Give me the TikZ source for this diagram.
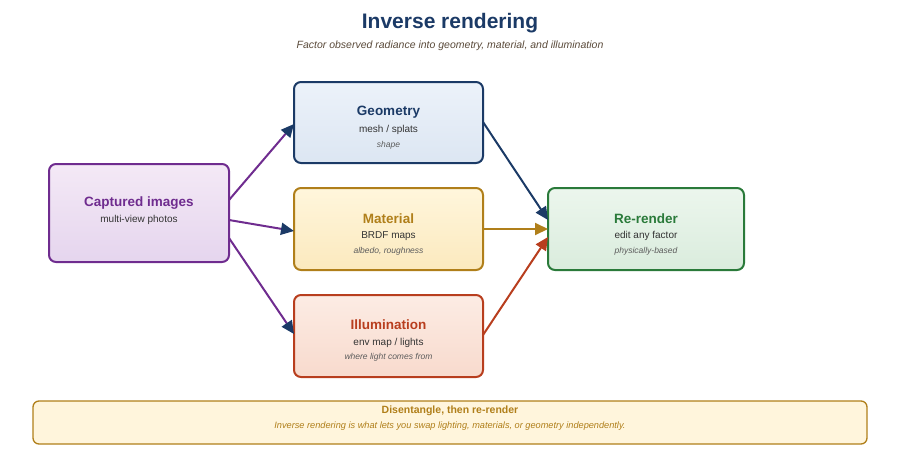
\documentclass[tikz,border=0pt]{standalone}
\usepackage{fontspec}
\setmainfont{Liberation Sans}
\usetikzlibrary{arrows.meta}
\definecolor{navy}{HTML}{1B3A66}
\definecolor{purp}{HTML}{6F2C8F}
\definecolor{gold}{HTML}{B07F1A}
\definecolor{rust}{HTML}{B83E1E}
\definecolor{grn}{HTML}{2A7A3A}
\definecolor{txt}{HTML}{333333}
\definecolor{sub}{HTML}{5A4A3A}
\definecolor{purT}{RGB}{244,233,246}\definecolor{purB}{RGB}{229,213,238}
\definecolor{navT}{RGB}{236,242,250}\definecolor{navB}{RGB}{220,230,242}
\definecolor{golT}{RGB}{255,246,220}\definecolor{golB}{RGB}{251,233,190}
\definecolor{rusT}{RGB}{252,236,228}\definecolor{rusB}{RGB}{248,218,205}
\definecolor{grnT}{RGB}{236,246,237}\definecolor{grnB}{RGB}{218,236,221}
\definecolor{noteF}{RGB}{255,245,220}
\tikzset{
 box/.style={draw, line width=2pt, rounded corners=7pt},
 ttl/.style={font=\bfseries\fontsize{13.5}{16}\selectfont},
 ln2/.style={font=\fontsize{10}{12}\selectfont, text=txt},
 ln3/.style={font=\itshape\fontsize{8.5}{10}\selectfont, text=txt!80},
 arr/.style={line width=2pt, -{Triangle[length=13pt,width=12pt]}},
 narr/.style={line width=2pt, -{Triangle[length=13pt,width=12pt,fill=navy,color=navy]}},
}
\begin{document}
\begin{tikzpicture}[x=1pt,y=-1pt]
\useasboundingbox (0,0) rectangle (900,475);
\node[font=\bfseries\fontsize{21}{24}\selectfont, text=navy] (title) at (450,23) {Inverse rendering};
\node[font=\itshape\fontsize{10.5}{12}\selectfont, text=sub] (subt) at (450,46) {Factor observed radiance into geometry, material, and illumination};
% boxes
\draw[box, draw=purp, top color=purT, bottom color=purB] (49,164) rectangle (229,262);
\node (cap) at (139,213) [minimum width=180pt, minimum height=98pt] {};
\node[ttl,text=purp] (capt) at (139,203) {Captured images};
\node[ln2] (capb) at (139,220) {multi-view photos};

\draw[box, draw=navy, top color=navT, bottom color=navB] (294,82) rectangle (483,163);
\node (geo) at (388.5,122.5) [minimum width=189pt, minimum height=81pt] {};
\node[ttl,text=navy] (geot) at (388.5,112) {Geometry};
\node[ln2] (geob) at (388.5,129.5) {mesh / splats};
\node[ln3] (geoc) at (388.5,145) {shape};

\draw[box, draw=gold, top color=golT, bottom color=golB] (294,188) rectangle (483,270);
\node (mat) at (388.5,229) [minimum width=189pt, minimum height=82pt] {};
\node[ttl,text=gold] (matt) at (388.5,218.5) {Material};
\node[ln2] (matb) at (388.5,236) {BRDF maps};
\node[ln3] (matc) at (388.5,251) {albedo, roughness};

\draw[box, draw=rust, top color=rusT, bottom color=rusB] (294,295) rectangle (483,377);
\node (ill) at (388.5,336) [minimum width=189pt, minimum height=82pt] {};
\node[ttl,text=rust] (illt) at (388.5,325) {Illumination};
\node[ln2] (illb) at (388.5,342.5) {env map / lights};
\node[ln3] (illc) at (388.5,357.5) {where light comes from};

\draw[box, draw=grn, top color=grnT, bottom color=grnB] (548,188) rectangle (744,270);
\node (rr) at (646,229) [minimum width=196pt, minimum height=82pt] {};
\node[ttl,text=grn] (rrt) at (646,218.5) {Re-render};
\node[ln2] (rrb) at (646,236) {edit any factor};
\node[ln3] (rrc) at (646,251) {physically-based};

\draw[draw=gold, line width=1.3pt, rounded corners=6pt, fill=noteF] (33,401) rectangle (867,444);
\node (note) at (450,422.5) [minimum width=834pt, minimum height=43pt] {};
\node[font=\bfseries\fontsize{10.5}{12}\selectfont, text=gold] (notet) at (450,410.5) {Disentangle, then re-render};
\node[font=\itshape\fontsize{9.2}{11}\selectfont, text=gold] (noteb) at (450,426) {Inverse rendering is what lets you swap lighting, materials, or geometry independently.};
% arrows
\coordinate (c1) at (229,200); \coordinate (g1) at (294,124);
\coordinate (c2) at (229,220); \coordinate (m1) at (294,231);
\coordinate (c3) at (229,238); \coordinate (i1) at (294,334);
\coordinate (g2) at (483,122); \coordinate (r1) at (548,220);
\coordinate (m2) at (483,229); \coordinate (r2) at (548,229);
\coordinate (i2) at (483,335); \coordinate (r3) at (548,237);
\draw[narr, draw=purp] (c1) -- (g1);
\draw[narr, draw=purp] (c2) -- (m1);
\draw[narr, draw=purp] (c3) -- (i1);
\draw[arr, draw=navy] (g2) -- (r1);
\draw[arr, draw=gold] (m2) -- (r2);
\draw[arr, draw=rust] (i2) -- (r3);
\end{tikzpicture}
\end{document}
